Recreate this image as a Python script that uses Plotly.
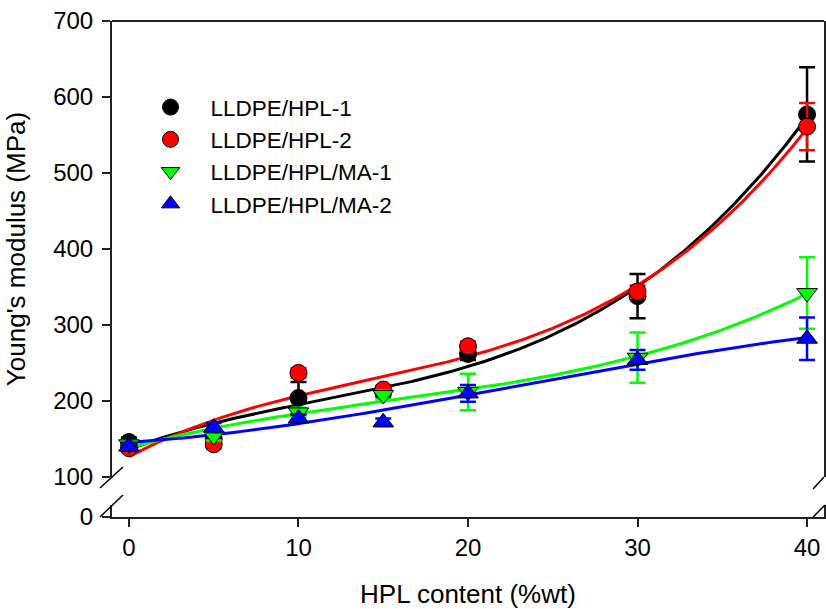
import numpy as np
import plotly.graph_objects as go

# ---- data ----
hpl_content = [0, 5, 10, 15, 20, 30, 40]

series_names = ["LLDPE/HPL-1", "LLDPE/HPL-2", "LLDPE/HPL/MA-1", "LLDPE/HPL/MA-2"]

hpl1_modulus = [146, 150, 204, 212, 262, 338, 577]
hpl1_error = [6, 5, 21, 6, 8, 29, 62]

hpl2_modulus = [138, 143, 237, 215, 272, 344, 561]
hpl2_error = [5, 5, 6, 5, 6, 8, 31]

ma1_modulus = [143, 154, 185, 208, 212, 257, 342]
ma1_error = [5, 6, 6, 6, 24, 33, 47]

ma2_modulus = [140, 165, 177, 172, 210, 254, 282]
ma2_error = [5, 6, 5, 5, 11, 13, 28]

x_ticks = [0, 10, 20, 30, 40]
y_ticks = [100, 200, 300, 400, 500, 600, 700]

colors = ["#000000", "#ff0000", "#00ff00", "#0000ff"]
symbols = ["circle", "circle", "triangle-down", "triangle-up"]
sizes = [17, 17, 18, 18]

all_y = [hpl1_modulus, hpl2_modulus, ma1_modulus, ma2_modulus]
all_err = [hpl1_error, hpl2_error, ma1_error, ma2_error]

FONT = "Liberation Sans, Arial, sans-serif"

fig = go.Figure()

# fitted (cubic regression) curves
xs = np.linspace(0, 40, 300)
for yv, c in zip(all_y, colors):
    coef = np.polyfit(hpl_content, yv, 3)
    fig.add_trace(go.Scatter(
        x=xs, y=np.polyval(coef, xs), mode="lines",
        line=dict(color=c, width=3), showlegend=False, hoverinfo="skip",
        xaxis="x", yaxis="y"))

# data points with error bars
for name, yv, ev, c, s, sz in zip(series_names, all_y, all_err, colors, symbols, sizes):
    fig.add_trace(go.Scatter(
        x=hpl_content, y=yv, mode="markers", name=name,
        marker=dict(symbol=s, size=sz, color=c, line=dict(color="black", width=1)),
        error_y=dict(type="data", array=ev, visible=True, color=c, thickness=2.5, width=8),
        xaxis="x", yaxis="y"))

# empty trace so the lower (broken) axis segment exists
fig.add_trace(go.Scatter(x=[None], y=[None], mode="markers", showlegend=False,
                         hoverinfo="skip", xaxis="x", yaxis="y2"))

axis_common = dict(showline=True, linecolor="#222222", linewidth=2, ticks="outside",
                   ticklen=8, tickwidth=2, tickcolor="#222222", showgrid=False,
                   zeroline=False, automargin=False,
                   tickfont=dict(family=FONT, size=24, color="black"))

fig.update_layout(
    width=826, height=609,
    margin=dict(l=112, r=2, t=21, b=92, autoexpand=False),
    paper_bgcolor="white", plot_bgcolor="white",
    font=dict(family=FONT, color="black"),
    xaxis=dict(range=[-1, 41], tickvals=x_ticks, anchor="y2",
               title=dict(text="HPL content (%wt)", font=dict(family=FONT, size=26), standoff=30),
               **axis_common),
    yaxis=dict(range=[100, 700], tickvals=y_ticks, domain=[0.0806, 1], anchor="x", mirror=True,
               ticklabelstandoff=4,
               title=dict(text="Young's modulus (MPa)", font=dict(family=FONT, size=26), standoff=20),
               **axis_common),
    yaxis2=dict(range=[0, 15.8], tickvals=[0], domain=[0, 0.0242], anchor="x", mirror=True,
                ticklabelstandoff=4, **axis_common),
    legend=dict(x=0.026, y=0.869, xanchor="left", yanchor="top", bgcolor="rgba(0,0,0,0)",
                font=dict(family=FONT, size=22.5, color="black"), itemwidth=70),
    showlegend=True,
)

# top frame line and axis-break marks
shape_line = dict(color="#222222", width=2)
fig.add_shape(type="line", xref="paper", yref="paper", x0=0, x1=1, y0=1, y1=1, line=shape_line)
for (x0, y0, x1, y1) in [(-0.01685, 0.0585, 0.01545, 0.1008),
                         (-0.01685, 0.0, 0.01545, 0.04435),
                         (0.9846, 0.0565, 1.0, 0.0806),
                         (0.9846, 0.0, 1.0014, 0.0242)]:
    fig.add_shape(type="line", xref="paper", yref="paper", x0=x0, y0=y0, x1=x1, y1=y1,
                  line=dict(color="black", width=1.5))

fig.write_html("out.html", config={"displayModeBar": False},
               post_script="document.body.style.margin='0';")
